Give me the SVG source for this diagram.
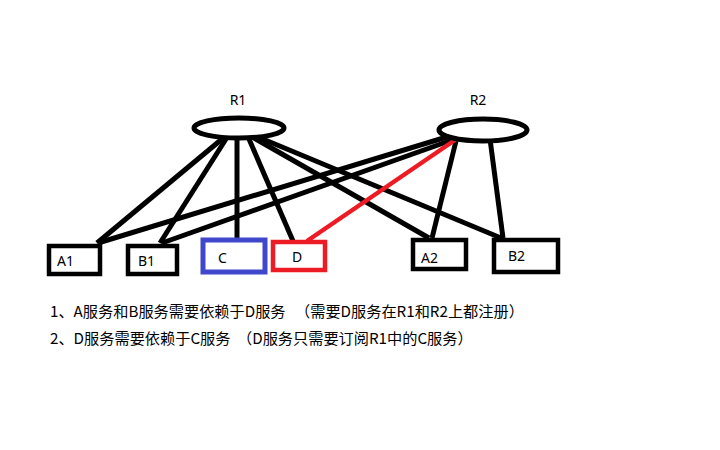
<svg xmlns="http://www.w3.org/2000/svg" width="720" height="450" viewBox="0 0 720 450">
<style>
.bg{fill:#ffffff}
.reg{fill:#ffffff;stroke:#000000;stroke-width:5}
.box{fill:#ffffff;stroke:#000000;stroke-width:4.5}
.blue{stroke:#3f48cc}
.red{stroke:#ed1c24}
.ln{stroke:#000000;stroke-width:5;fill:none}
.rln{stroke:#ed1c24;stroke-width:4.5;fill:none}
.lbl{font-family:"Noto Sans","Noto Sans CJK SC",sans-serif;font-size:14px;fill:#000000}
.note{font-family:"Noto Sans CJK SC",sans-serif;font-size:15.2px;fill:#000000}
</style>
<rect class="bg" x="0" y="0" width="720" height="450"/>
<g id="connectors">
<line class="ln" x1="222" y1="139" x2="97" y2="243"/>
<line class="ln" x1="226" y1="139" x2="160" y2="243"/>
<line class="ln" x1="237" y1="138" x2="237" y2="238"/>
<line class="ln" x1="249" y1="139" x2="293" y2="241"/>
<line class="ln" x1="254" y1="138" x2="429" y2="238"/>
<line class="ln" x1="258" y1="137" x2="501" y2="238"/>
<line class="ln" x1="450" y1="136" x2="98" y2="243"/>
<line class="ln" x1="452" y1="140" x2="162" y2="243"/>
<line class="ln" x1="456" y1="141" x2="432" y2="238"/>
<line class="ln" x1="490" y1="139" x2="503" y2="238"/>
<line class="rln" x1="455" y1="140" x2="307" y2="241"/>
</g>
<g id="R1">
<ellipse class="reg" cx="239" cy="128" rx="45" ry="10"/>
<text class="lbl" x="238" y="105" text-anchor="middle">R1</text>
</g>
<g id="R2">
<ellipse class="reg" cx="483" cy="130" rx="44" ry="11"/>
<text class="lbl" x="478" y="105" text-anchor="middle">R2</text>
</g>
<g id="A1">
<rect class="box" x="49" y="246" width="51" height="28"/>
<text class="lbl" x="57" y="266">A1</text>
</g>
<g id="B1">
<rect class="box" x="128" y="246" width="49" height="28"/>
<text class="lbl" x="138" y="266">B1</text>
</g>
<g id="C">
<rect class="box blue" x="203" y="240" width="62" height="32" style="stroke-width:5"/>
<text class="lbl" x="218" y="263">C</text>
</g>
<g id="D">
<rect class="box red" x="273" y="242" width="52" height="28"/>
<text class="lbl" x="292" y="262">D</text>
</g>
<g id="A2">
<rect class="box" x="413" y="240" width="53" height="29"/>
<text class="lbl" x="421" y="263">A2</text>
</g>
<g id="B2">
<rect class="box" x="494" y="240" width="64" height="32"/>
<text class="lbl" x="508" y="261">B2</text>
</g>
<g id="notes">
<text class="note" x="50" y="317">1、A服务和B服务需要依赖于D服务</text>
<text class="note" x="295" y="317">（需要D服务在R1和R2上都注册）</text>
<text class="note" x="50" y="344">2、D服务需要依赖于C服务</text>
<text class="note" x="237" y="344">（D服务只需要订阅R1中的C服务）</text>
</g>
</svg>
